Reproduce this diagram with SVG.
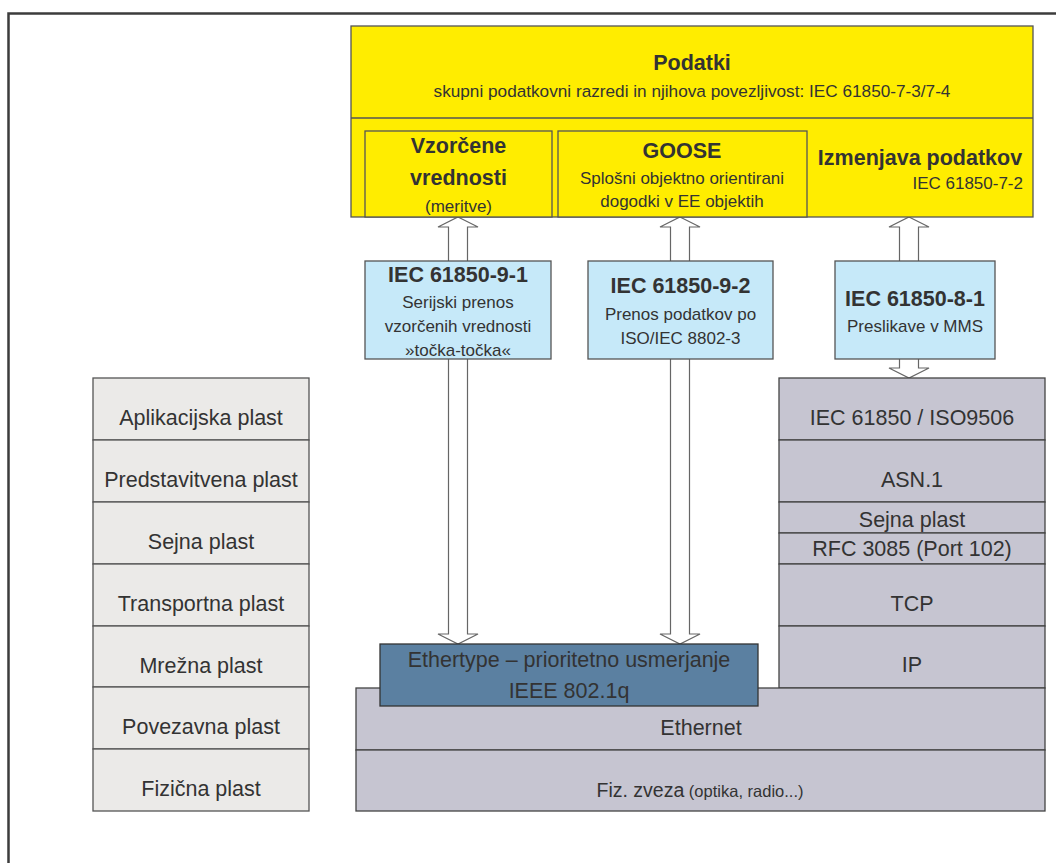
<svg xmlns="http://www.w3.org/2000/svg" width="1056" height="863" viewBox="0 0 1056 863">
  <defs>
    <style>
      text { font-family: "Liberation Sans", Arial, Helvetica, sans-serif; fill: #333333; text-anchor: middle; }
      .ttl { font-size: 21.5px; font-weight: bold; }
      .lyr { font-size: 21.5px; }
      .sm { font-size: 17px; }
      .yel { fill: #FFED00; stroke: #555555; stroke-width: 1.3; }
      .blu { fill: #C6E9F9; stroke: #555555; stroke-width: 1.3; }
      .gry { fill: #C6C5D1; stroke: #444444; stroke-width: 1.3; }
      .osi { fill: #EBEAE8; stroke: #555555; stroke-width: 1.3; }
      .eth { fill: #5B80A1; stroke: #333333; stroke-width: 1.3; }
      .arr { fill: #FFFFFF; stroke: #666666; stroke-width: 1.2; }
      .div { stroke: #555555; stroke-width: 1.3; fill: none; }
    </style>
  </defs>
  <rect x="0" y="0" width="1056" height="863" fill="#FFFFFF"/>

  <!-- outer frame (continues beyond the page edge) -->
  <path d="M8.5,870 V13.5 H1070" fill="none" stroke="#3C3C3C" stroke-width="2.5"/>

  <!-- OSI reference layers -->
  <g id="osi-layers">
    <rect class="osi" x="93" y="378" width="216" height="62"/>
    <rect class="osi" x="93" y="440" width="216" height="62"/>
    <rect class="osi" x="93" y="502" width="216" height="62"/>
    <rect class="osi" x="93" y="564" width="216" height="62"/>
    <rect class="osi" x="93" y="626" width="216" height="61"/>
    <rect class="osi" x="93" y="687" width="216" height="62"/>
    <rect class="osi" x="93" y="749" width="216" height="62"/>
    <text class="lyr" x="201" y="425">Aplikacijska plast</text>
    <text class="lyr" x="201" y="487">Predstavitvena plast</text>
    <text class="lyr" x="201" y="549">Sejna plast</text>
    <text class="lyr" x="201" y="611">Transportna plast</text>
    <text class="lyr" x="201" y="673">Mrežna plast</text>
    <text class="lyr" x="201" y="734">Povezavna plast</text>
    <text class="lyr" x="201" y="796">Fizična plast</text>
  </g>

  <!-- connectors: hollow double arrows -->
  <g id="connectors">
    <polygon class="arr" points="458,217 478,227 467.5,227 467.5,634 478,634 458,644 438,634 448.5,634 448.5,227 438,227"/>
    <polygon class="arr" points="680,217 700,227 689.5,227 689.5,634 700,634 680,644 660,634 670.5,634 670.5,227 660,227"/>
    <polygon class="arr" points="909,217 929,227 918.5,227 918.5,368 929,368 909,378 889,368 899.5,368 899.5,227 889,227"/>
  </g>

  <!-- data model block -->
  <g id="podatki">
    <rect class="yel" x="351" y="26" width="682" height="191"/>
    <line class="div" x1="351" y1="118" x2="1033" y2="118"/>
    <text class="ttl" x="692" y="70" font-size="21px">Podatki</text>
    <text x="692" y="97" font-size="17.2px">skupni podatkovni razredi in njihova povezljivost: IEC 61850-7-3/7-4</text>
  </g>

  <g id="vzorcene">
    <rect class="yel" x="365" y="131" width="187" height="86"/>
    <text class="ttl" x="458.5" y="153">Vzorčene</text>
    <text class="ttl" x="458.5" y="185">vrednosti</text>
    <text class="sm" x="458.5" y="211.5">(meritve)</text>
  </g>

  <g id="goose">
    <rect class="yel" x="558" y="131" width="249" height="86"/>
    <text class="ttl" x="682" y="157.5">GOOSE</text>
    <text class="sm" x="682" y="184">Splošni objektno orientirani</text>
    <text class="sm" x="682" y="206.5">dogodki v EE objektih</text>
  </g>

  <g id="izmenjava">
    <text class="ttl" x="920" y="165">Izmenjava podatkov</text>
    <text class="sm" x="1023" y="189" style="text-anchor:end">IEC 61850-7-2</text>
  </g>

  <!-- mapping standards -->
  <g id="iec-9-1">
    <rect class="blu" x="365" y="261" width="186" height="98"/>
    <text class="ttl" x="458" y="281.5">IEC 61850-9-1</text>
    <text class="sm" x="458" y="307.5">Serijski prenos</text>
    <text class="sm" x="458" y="331.5">vzorčenih vrednosti</text>
    <text class="sm" x="458" y="355.5">»točka-točka«</text>
  </g>

  <g id="iec-9-2">
    <rect class="blu" x="588" y="261" width="185" height="98"/>
    <text class="ttl" x="680.5" y="293">IEC 61850-9-2</text>
    <text class="sm" x="680.5" y="320">Prenos podatkov po</text>
    <text class="sm" x="680.5" y="344">ISO/IEC 8802-3</text>
  </g>

  <g id="iec-8-1">
    <rect class="blu" x="835" y="261" width="160" height="98"/>
    <text class="ttl" x="915" y="306">IEC 61850-8-1</text>
    <text class="sm" x="915" y="331.5">Preslikave v MMS</text>
  </g>

  <!-- MMS protocol stack -->
  <g id="mms-stack">
    <rect class="gry" x="779" y="378" width="266" height="62"/>
    <rect class="gry" x="779" y="440" width="266" height="62"/>
    <rect class="gry" x="779" y="502" width="266" height="31"/>
    <rect class="gry" x="779" y="533" width="266" height="31"/>
    <rect class="gry" x="779" y="564" width="266" height="62"/>
    <rect class="gry" x="779" y="626" width="266" height="62"/>
    <text class="lyr" x="912" y="425">IEC 61850 / ISO9506</text>
    <text class="lyr" x="912" y="487">ASN.1</text>
    <text class="lyr" x="912" y="526.5">Sejna plast</text>
    <text class="lyr" x="912" y="556">RFC 3085 (Port 102)</text>
    <text class="lyr" x="912" y="611">TCP</text>
    <text class="lyr" x="912" y="672">IP</text>
  </g>

  <!-- link and physical layer -->
  <g id="ethernet">
    <rect class="gry" x="356" y="688" width="689" height="62"/>
    <text class="lyr" x="701" y="735">Ethernet</text>
  </g>

  <g id="fizicna">
    <rect class="gry" x="356" y="750" width="689" height="61"/>
    <text x="700" y="797"><tspan font-size="19.5px">Fiz. zveza</tspan><tspan font-size="16.5px"> (optika, radio...)</tspan></text>
  </g>

  <g id="ethertype">
    <rect class="eth" x="380" y="644" width="378" height="62"/>
    <text class="lyr" x="569" y="667">Ethertype – prioritetno usmerjanje</text>
    <text class="lyr" x="569" y="698">IEEE 802.1q</text>
  </g>
</svg>
